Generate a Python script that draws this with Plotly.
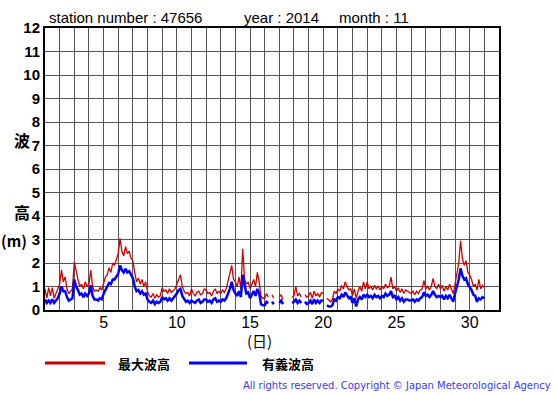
import plotly.graph_objects as go

# ---- data (3-hourly samples, day 1 00h .. day 31 00h) ----
days = list(range(1, 31))
slots_per_day = 8

max_wave = [
    0.9, 0.5, 0.95, 0.6, 0.95, 0.5, 0.7, 0.9,      # 1
    1.1, 1.7, 1.2, 1.4, 0.9, 0.7, 0.8, 0.9,        # 2
    2.05, 1.6, 1.3, 1.0, 1.1, 0.9, 1.2, 1.0,       # 3
    1.1, 1.7, 1.0, 0.8, 0.85, 0.8, 0.95, 0.85,     # 4
    1.1, 1.4, 1.5, 1.8, 1.6, 2.0, 1.9, 2.2,        # 5
    2.4, 3.05, 2.5, 2.3, 2.7, 2.4, 2.5, 2.2,       # 6
    2.1, 1.6, 1.2, 1.35, 1.1, 1.3, 1.0, 1.2,       # 7
    0.8, 0.6, 0.55, 0.7, 0.5, 0.65, 0.55, 0.6,     # 8
    0.95, 0.8, 0.85, 0.7, 0.9, 0.75, 0.85, 0.9,    # 9
    1.1, 1.3, 1.5, 1.0, 0.8, 0.7, 0.75, 0.6,       # 10
    0.9, 0.7, 0.6, 0.75, 0.8, 0.65, 0.7, 0.9,      # 11
    0.85, 0.7, 0.75, 0.6, 0.8, 0.9, 0.7, 0.8,      # 12
    0.7, 0.85, 0.75, 0.9, 1.2, 1.5, 1.9, 1.3,      # 13
    1.2, 1.0, 1.4, 0.9, 2.6, 1.3, 1.1, 1.2,        # 14
    0.9, 1.1, 1.3, 1.0, 1.6, 1.2, 0.6, 0.5,        # 15
    0.5, 0.7, 0.55, None, 0.65, 0.5, None, None,   # 16
    0.55, 0.65, 0.45, None, None, None, None, 0.55,  # 17
    0.6, 1.0, 0.6, 0.7, 0.55, None, 0.65, 0.55,    # 18
    0.6, 0.75, 0.5, 0.8, 0.6, 0.7, 0.55, 0.75,     # 19
    0.7, None, 0.5, 0.4, 0.35, 0.45, 0.8, 0.7,     # 20
    0.9, 0.8, 1.05, 0.9, 1.2, 1.0, 0.85, 0.9,      # 21
    0.6, 0.9, 0.5, 0.8, 1.0, 0.8, 1.2, 0.9,        # 22
    1.2, 0.9, 1.0, 0.85, 1.05, 0.9, 1.0, 0.85,     # 23
    1.0, 0.9, 1.1, 0.95, 1.0, 1.4, 0.9, 1.0,       # 24
    0.8, 0.95, 0.75, 0.9, 0.7, 0.85, 0.8, 0.75,    # 25
    0.7, 0.8, 0.65, 0.8, 0.7, 0.85, 0.9, 1.25,     # 26
    0.9, 1.0, 0.85, 1.0, 1.35, 1.0, 0.9, 1.1,      # 27
    0.9, 1.05, 0.8, 1.0, 0.85, 1.1, 0.9, 0.7,      # 28
    1.1, 1.5, 2.0, 2.94, 2.2, 1.9, 2.1, 1.6,       # 29
    1.5, 1.3, 1.0, 1.1, 0.85, 1.3, 0.9, 1.05,      # 30
    0.95,
]

sig_wave = [
    0.45, 0.3, 0.4, 0.3, 0.45, 0.3, 0.4, 0.5,      # 1
    0.7, 1.0, 0.8, 0.8, 0.55, 0.4, 0.45, 0.5,      # 2
    1.3, 1.0, 0.85, 0.65, 0.7, 0.55, 0.7, 0.6,     # 3
    0.7, 1.05, 0.6, 0.45, 0.45, 0.4, 0.5, 0.45,    # 4
    0.7, 0.85, 1.0, 1.15, 1.1, 1.3, 1.3, 1.45,     # 5
    1.55, 1.9, 1.7, 1.6, 1.75, 1.6, 1.65, 1.5,     # 6
    1.35, 1.0, 0.8, 0.85, 0.7, 0.8, 0.65, 0.7,     # 7
    0.45, 0.35, 0.3, 0.4, 0.25, 0.35, 0.3, 0.35,   # 8
    0.55, 0.45, 0.5, 0.4, 0.5, 0.4, 0.5, 0.55,     # 9
    0.7, 0.85, 0.9, 0.6, 0.45, 0.35, 0.4, 0.3,     # 10
    0.4, 0.35, 0.3, 0.4, 0.45, 0.3, 0.35, 0.45,    # 11
    0.45, 0.35, 0.4, 0.3, 0.45, 0.5, 0.35, 0.4,    # 12
    0.35, 0.45, 0.4, 0.5, 0.7, 0.9, 1.2, 0.85,     # 13
    0.7, 0.6, 0.8, 0.55, 1.5, 1.1, 0.7, 0.75,      # 14
    0.5, 0.65, 0.8, 0.6, 0.9, 0.7, 0.25, 0.2,      # 15
    0.2, 0.35, 0.3, None, 0.35, 0.25, None, None,  # 16
    0.3, 0.4, 0.25, None, None, None, None, 0.3,   # 17
    0.35, 0.45, 0.3, 0.4, 0.3, None, 0.35, 0.25,   # 18
    0.3, 0.4, 0.25, 0.45, 0.3, 0.4, 0.3, 0.4,      # 19
    0.4, None, 0.2, 0.15, 0.15, 0.2, 0.45, 0.4,    # 20
    0.55, 0.5, 0.65, 0.55, 0.75, 0.6, 0.5, 0.55,   # 21
    0.3, 0.5, 0.15, 0.45, 0.55, 0.45, 0.65, 0.55,  # 22
    0.65, 0.55, 0.6, 0.5, 0.65, 0.55, 0.6, 0.5,    # 23
    0.6, 0.55, 0.7, 0.6, 0.65, 0.8, 0.55, 0.6,     # 24
    0.45, 0.55, 0.4, 0.5, 0.35, 0.45, 0.45, 0.4,   # 25
    0.4, 0.45, 0.35, 0.45, 0.4, 0.5, 0.55, 0.75,   # 26
    0.6, 0.65, 0.55, 0.65, 0.8, 0.65, 0.55, 0.6,   # 27
    0.55, 0.6, 0.45, 0.6, 0.5, 0.65, 0.5, 0.35,    # 28
    0.7, 1.0, 1.3, 1.77, 1.45, 1.3, 1.35, 1.1,     # 29
    1.0, 0.85, 0.65, 0.6, 0.35, 0.5, 0.45, 0.55,   # 30
    0.5,
]

x_ticks = [5, 10, 15, 20, 25, 30]
y_ticks = list(range(0, 13))

times = [d + s / slots_per_day for d in days for s in range(slots_per_day)] + [days[-1] + 1]

# ---- figure ----
L, R, T, B = 45, 499, 28, 310
W, H = 555, 395

def px(x):
    return (x - L) / (R - L)

def py(y):
    return (B - y) / (B - T)

fig = go.Figure()
fig.add_trace(go.Scatter(x=times, y=max_wave, mode="lines",
                         line=dict(color="#d00000", width=1.3), connectgaps=False,
                         name="最大波高"))
fig.add_trace(go.Scatter(x=times, y=sig_wave, mode="lines",
                         line=dict(color="#0000ff", width=2.5), connectgaps=False,
                         name="有義波高"))

grid = "#555555"
fig.update_layout(
    width=W, height=H,
    margin=dict(l=L, r=W - R, t=T, b=H - B),
    plot_bgcolor="white", paper_bgcolor="white",
    showlegend=False,
    font=dict(family="Liberation Sans, Arial, sans-serif", color="black"),
)
fig.update_xaxes(
    range=[1, 32], tickvals=x_ticks, ticktext=[str(v) for v in x_ticks],
    showgrid=True, gridcolor=grid, gridwidth=1,
    minor=dict(dtick=1, tick0=1, showgrid=True, gridcolor=grid, gridwidth=1),
    showline=True, linecolor="black", linewidth=2, mirror=True,
    ticks="", zeroline=False, ticklabelstandoff=-3,
    tickfont=dict(size=16, family="Liberation Sans, Arial, sans-serif"),
)
fig.update_yaxes(
    range=[0, 12], tickvals=y_ticks, ticktext=[str(v) for v in y_ticks],
    showgrid=True, gridcolor=grid, gridwidth=1,
    showline=True, linecolor="black", linewidth=2, mirror=True,
    ticks="", zeroline=False,
    tickfont=dict(size=15, family="Liberation Sans, Arial, sans-serif", weight="bold"),
)

ann = []
def text(x, y, s, size, anchor="left", weight="normal", family="Liberation Sans, Arial, sans-serif", color="black"):
    ann.append(dict(x=px(x), y=py(y), xref="paper", yref="paper", text=s, showarrow=False,
                    xanchor=anchor, yanchor="middle",
                    font=dict(size=size, family=family, color=color, weight=weight)))

text(47, 17, "station number : 47656", 15)
text(242, 17, "year : 2014", 15)
text(337, 17, "month : 11", 15)

cjk = "Noto Sans CJK JP, sans-serif"
text(22, 140, "波", 16, anchor="center", weight="bold", family=cjk)
text(22, 212, "高", 16, anchor="center", weight="bold", family=cjk)
text(14, 240, "(m)", 15, anchor="center", weight="bold", family=cjk)
text(259, 340, "(日)", 15, anchor="center", family=cjk)

text(116, 363, "最大波高", 13, weight="bold", family=cjk)
text(260, 363, "有義波高", 13, weight="bold", family=cjk)
text(553, 385, "All rights reserved. Copyright © Japan Meteorological Agency", 10,
     anchor="right", family="DejaVu Sans, sans-serif", color="#3a3aee")
fig.update_layout(annotations=ann)

fig.add_shape(type="line", xref="paper", yref="paper", x0=px(45), x1=px(105), y0=py(363), y1=py(363),
              line=dict(color="#cc0000", width=3))
fig.add_shape(type="line", xref="paper", yref="paper", x0=px(189), x1=px(247), y0=py(363), y1=py(363),
              line=dict(color="#0000ff", width=3))

fig.write_html("out.html", config={"displayModeBar": False})

# remove the default page margin so the figure sits at the window's top-left corner
with open("out.html", encoding="utf-8") as f:
    html = f.read()
html = html.replace("<head>", "<head><style>html,body{margin:0;padding:0;}</style>", 1)
with open("out.html", "w", encoding="utf-8") as f:
    f.write(html)
